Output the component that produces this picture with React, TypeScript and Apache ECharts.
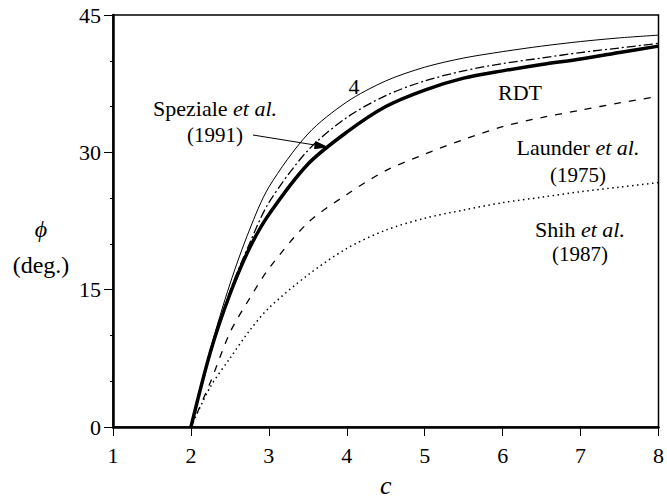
import React, { useEffect, useRef } from "react";
import * as echarts from "echarts";

const cValues = [2, 2.25, 2.5, 2.75, 3, 3.5, 4, 4.5, 5, 5.5, 6, 6.5, 7, 7.5, 8];
const rdt = [0, 8.2, 14.5, 19.5, 23.2, 28.7, 32.2, 35.0, 36.8, 38.1, 38.9, 39.6, 40.2, 40.9, 41.6];
const model4 = [0, 8.5, 15.6, 21.5, 26.2, 32.0, 35.5, 37.8, 39.3, 40.3, 41.0, 41.6, 42.1, 42.5, 42.8];
const speziale = [0, 8.0, 14.8, 20.0, 24.5, 30.2, 33.8, 36.2, 37.8, 38.9, 39.7, 40.3, 40.9, 41.4, 41.9];
const launder = [0, 4.9, 10.3, 14.0, 17.3, 22.3, 25.4, 28.0, 29.8, 31.4, 32.8, 33.8, 34.6, 35.4, 36.1];
const shih = [0, 4.4, 7.5, 10.5, 13.0, 16.6, 19.5, 21.5, 22.8, 23.7, 24.5, 25.1, 25.7, 26.2, 26.7];

const xTicks = [1, 2, 3, 4, 5, 6, 7, 8];
const yTicks = [0, 15, 30, 45];

const FONT = "Liberation Serif";

const pairs = (ys: number[]) => cValues.map((c, i) => [c, ys[i]]);

const plain = (text: string, x: number, y: number, size = 21, italic = false) => ({
  type: "text",
  x,
  y,
  style: {
    text,
    fontFamily: FONT,
    fontSize: size,
    fontStyle: italic ? "italic" : "normal",
    fill: "#000",
    align: "center",
    verticalAlign: "middle",
  },
});

// label: roman word followed by italic "et al."
const mixed = (word: string, x: number, y: number, size = 22) => ({
  type: "text",
  x,
  y,
  style: {
    text: word + " {i|et al.}",
    fontFamily: FONT,
    fontSize: size,
    fill: "#000",
    align: "center",
    verticalAlign: "middle",
    rich: {
      i: { fontFamily: FONT, fontStyle: "italic", fontSize: size, fill: "#000" },
    },
  },
});

export default function App() {
  const ref = useRef<HTMLDivElement>(null);
  useEffect(() => {
    if (!ref.current) return;
    const chart = echarts.init(ref.current, null, { renderer: "svg" });
    const line = (name: string, ys: number[], width: number, type: any) => ({
      name,
      type: "line",
      data: pairs(ys),
      smooth: 0.3,
      showSymbol: false,
      symbol: "none",
      lineStyle: { color: "#000", width, type },
      z: 3,
    });
    chart.setOption({
      animation: false,
      backgroundColor: "#fff",
      textStyle: { fontFamily: FONT },
      grid: {
        left: 113,
        right: 4,
        top: 15,
        bottom: 60,
        show: true,
        borderColor: "#000",
        borderWidth: 1.5,
      },
      xAxis: {
        type: "value",
        min: xTicks[0],
        max: xTicks[xTicks.length - 1],
        interval: 1,
        name: "c",
        nameLocation: "middle",
        nameGap: 45,
        nameTextStyle: { fontFamily: FONT, fontStyle: "italic", fontSize: 26, color: "#000" },
        axisLine: { lineStyle: { color: "#000", width: 2.5 } },
        axisTick: { show: true, inside: false, length: 9, lineStyle: { color: "#000", width: 1 } },
        axisLabel: { fontFamily: FONT, fontSize: 22, color: "#000", margin: 17 },
        splitLine: { show: false },
      },
      yAxis: {
        type: "value",
        min: yTicks[0],
        max: yTicks[yTicks.length - 1],
        interval: 15,
        axisLine: { show: true, lineStyle: { color: "#000", width: 2.5 } },
        axisTick: { show: true, inside: false, length: 9, lineStyle: { color: "#000", width: 1 } },
        minorTick: { show: true, splitNumber: 3, length: 3, lineStyle: { color: "#000", width: 1 } },
        axisLabel: { fontFamily: FONT, fontSize: 22, color: "#000", margin: 12 },
        splitLine: { show: false },
      },
      series: [
        line("RDT", rdt, 3.5, "solid"),
        line("4", model4, 1, "solid"),
        line("Speziale et al. (1991)", speziale, 1.3, [9, 3, 2, 3]),
        line("Launder et al. (1975)", launder, 1.3, [7, 8]),
        line("Shih et al. (1987)", shih, 1.5, [1.5, 3.5]),
      ],
      graphic: [
        plain("4", 354, 86, 22),
        plain("RDT", 520, 92, 22),
        mixed("Launder", 578, 147),
        plain("(1975)", 578, 175),
        mixed("Shih", 580, 229),
        plain("(1987)", 580, 254),
        mixed("Speziale", 215, 108),
        plain("(1991)", 215, 135),
        plain("ϕ", 41, 229, 24, true),
        plain("(deg.)", 41, 265, 24),
        {
          type: "line",
          shape: { x1: 253, y1: 135, x2: 316, y2: 145.2 },
          style: { stroke: "#000", lineWidth: 1 },
          z: 10,
        },
        {
          type: "polygon",
          shape: { points: [[327, 147], [314.6, 148.6], [315.7, 141.6]] },
          style: { fill: "#000", stroke: "#000" },
          z: 10,
        },
      ],
    });
    return () => chart.dispose();
  }, []);
  return (
    <div
      ref={ref}
      style={{ position: "absolute", left: 0, top: 0, width: 667, height: 503 }}
    />
  );
}
